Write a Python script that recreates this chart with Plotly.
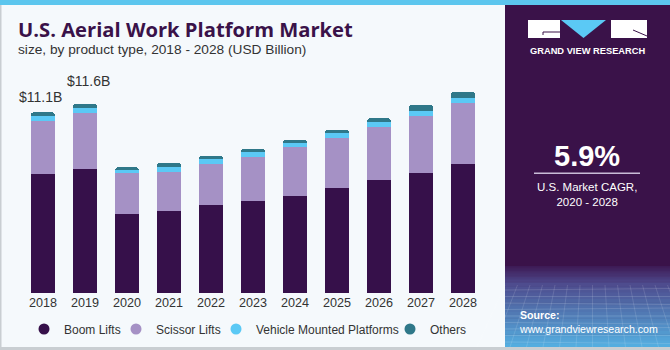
import plotly.graph_objects as go

# ---------------- data ----------------
years = ["2018", "2019", "2020", "2021", "2022", "2023", "2024", "2025", "2026", "2027", "2028"]
boom_lifts = [7.29, 7.64, 4.87, 5.06, 5.41, 5.68, 5.98, 6.47, 6.97, 7.40, 7.94]
scissor_lifts = [3.29, 3.44, 2.50, 2.40, 2.54, 2.68, 2.97, 3.05, 3.23, 3.48, 3.73]
vehicle_mounted = [0.29, 0.27, 0.20, 0.29, 0.27, 0.33, 0.29, 0.33, 0.33, 0.31, 0.33]
others = [0.23, 0.26, 0.15, 0.23, 0.20, 0.18, 0.18, 0.16, 0.20, 0.37, 0.37]
series_names = ["Boom Lifts", "Scissor Lifts", "Vehicle Mounted Platforms", "Others"]
labelled_years = ["2018", "2019"]
label_texts = ["$11.1B", "$11.6B"]
cagr_text = "5.9%"

# ---------------- style ----------------
W, H = 670, 350
L, R, T, B = 22, 484, 60, 350          # plot-area pixel box (extended to the bottom)
BASE = 293                              # pixel row of value 0
PX_PER_UNIT = 16.28
BG = "#F5F9FC"
PURPLE = "#3A1249"
colors = ["#36104A", "#A591C5", "#5BC9F5", "#2F7889"]
legend_left_px = [24, 116, 216, 390]
FONT = "Liberation Sans"


def px2x(px):
    return (px - L) / (R - L)


def py2y(py):
    return (B - py) / (B - T)


fig = go.Figure()
for name, vals, col in zip(series_names, [boom_lifts, scissor_lifts, vehicle_mounted, others], colors):
    fig.add_trace(go.Bar(x=years, y=vals, name=name, marker=dict(color=col, line=dict(width=0)),
                         showlegend=False, hoverinfo="x+y+name"))
# legend entries with round markers, one legend each so they can be spaced like the original
legend_ids = ["legend", "legend2", "legend3", "legend4"]
for name, col, lid in zip(series_names, colors, legend_ids):
    fig.add_trace(go.Scatter(x=[years[0]], y=[None], mode="markers", name=name, legend=lid,
                             marker=dict(color=col, size=11, symbol="circle")))

totals = [a + b + c + d for a, b, c, d in zip(boom_lifts, scissor_lifts, vehicle_mounted, others)]
shifts = {"2018": (-2.5, 15), "2019": (3, 23)}
annotations = []
for yr, txt in zip(labelled_years, label_texts):
    i = years.index(yr)
    xs, ys = shifts[yr]
    annotations.append(dict(x=i, y=totals[i], xref="x", yref="y", text=txt, showarrow=False,
                            xshift=xs, yshift=ys, yanchor="middle",
                            font=dict(family=FONT, size=14, color="#333333")))

# title & subtitle
annotations.append(dict(x=px2x(16), y=py2y(29), xref="paper", yref="paper", xanchor="left", yanchor="middle",
                        text="<b>U.S. Aerial Work Platform Market</b>", showarrow=False,
                        font=dict(family="Open Sans", size=20.2, color=PURPLE)))
annotations.append(dict(x=px2x(16), y=py2y(50), xref="paper", yref="paper", xanchor="left", yanchor="middle",
                        text="size, by product type, 2018 - 2028 (USD Billion)", showarrow=False,
                        font=dict(family=FONT, size=13.7, color="#333333")))
# right panel texts
annotations.append(dict(x=px2x(587), y=py2y(51), xref="paper", yref="paper", xanchor="center", yanchor="middle",
                        text="<b>GRAND VIEW RESEARCH</b>", showarrow=False,
                        font=dict(family=FONT, size=9.3, color="white")))
annotations.append(dict(x=px2x(587), y=py2y(156), xref="paper", yref="paper", xanchor="center", yanchor="middle",
                        text="<b>" + cagr_text + "</b>", showarrow=False,
                        font=dict(family=FONT, size=29, color="white")))
annotations.append(dict(x=px2x(587), y=py2y(194), xref="paper", yref="paper", xanchor="center", yanchor="middle",
                        text="U.S. Market CAGR,<br>2020 - 2028", showarrow=False,
                        font=dict(family=FONT, size=11.5, color="white")))
annotations.append(dict(x=px2x(517), y=py2y(322), xref="paper", yref="paper", xanchor="left", yanchor="middle",
                        text="<b>Source:</b><br>www.grandviewresearch.com", showarrow=False, align="left",
                        font=dict(family=FONT, size=10.6, color="white")))


def rect(x0, y0, x1, y1, color, **kw):
    return dict(type="rect", xref="paper", yref="paper", x0=px2x(x0), x1=px2x(x1),
                y0=py2y(y0), y1=py2y(y1), fillcolor=color, line=dict(width=0), **kw)


def hex2rgb(h):
    h = h.lstrip("#")
    return tuple(int(h[i:i + 2], 16) for i in (0, 2, 4))


shapes = []
# top stripe, borders
shapes.append(rect(0, 0, W, 5, "#5CC6EE"))
shapes.append(rect(0, 5, 1.5, H, "#C9CED2"))
shapes.append(rect(0, 347, W, H, "#C9CED2"))
# right panel
shapes.append(rect(505, 5, W, 347, PURPLE))
# bottom gradient of panel
c0 = hex2rgb("#3E1A55")
c1 = hex2rgb("#4E4A8C")
c2 = hex2rgb("#55B0E2")
n = 20
y_start, y_mid, y_end = 266, 283, 347
for k in range(n):
    ya = y_start + (y_mid - y_start) * k / n
    yb = y_start + (y_mid - y_start) * (k + 1) / n + 0.5
    t = (k + 0.5) / n
    col = tuple(int(c0[j] + (c1[j] - c0[j]) * t) for j in range(3))
    shapes.append(rect(505, ya, W, yb, "rgb(%d,%d,%d)" % col))
for k in range(n):
    ya = y_mid + (y_end - y_mid) * k / n
    yb = y_mid + (y_end - y_mid) * (k + 1) / n + 0.5
    t = (k + 0.5) / n
    col = tuple(int(c1[j] + (c2[j] - c1[j]) * t) for j in range(3))
    shapes.append(rect(505, ya, W, min(yb, 347), "rgb(%d,%d,%d)" % col))
# faint grid texture in the gradient
for k in range(9):
    yy = 290 + k * 6.5
    shapes.append(dict(type="line", xref="paper", yref="paper", x0=px2x(505), x1=px2x(W),
                       y0=py2y(yy), y1=py2y(yy + 1.5 * (k % 3 - 1)),
                       line=dict(color="rgba(255,255,255,0.18)", width=0.8)))
for k in range(14):
    xx = 505 + k * 12.5
    shapes.append(dict(type="line", xref="paper", yref="paper", x0=px2x(xx), x1=px2x(xx + (k - 7) * 4),
                       y0=py2y(285), y1=py2y(347),
                       line=dict(color="rgba(255,255,255,0.16)", width=0.8)))
# logo
shapes.append(rect(528, 20, 560, 38, "white"))
shapes.append(rect(611, 20, 647, 38, "white"))
shapes.append(dict(type="path", xref="paper", yref="paper",
                   path="M %f,%f L %f,%f L %f,%f Z" % (px2x(561), py2y(20), px2x(606), py2y(20), px2x(583.5), py2y(38)),
                   fillcolor="#5BC9F5", line=dict(width=0)))
shapes.append(dict(type="line", xref="paper", yref="paper", x0=px2x(543), x1=px2x(560), y0=py2y(32), y1=py2y(32),
                   line=dict(color=PURPLE, width=1)))
shapes.append(dict(type="line", xref="paper", yref="paper", x0=px2x(543), x1=px2x(543), y0=py2y(32), y1=py2y(35),
                   line=dict(color=PURPLE, width=1)))
shapes.append(dict(type="line", xref="paper", yref="paper", x0=px2x(633), x1=px2x(647), y0=py2y(30), y1=py2y(36),
                   line=dict(color=PURPLE, width=1)))
# CAGR divider
shapes.append(dict(type="line", xref="paper", yref="paper", x0=px2x(534), x1=px2x(640), y0=py2y(173.3), y1=py2y(173.3),
                   line=dict(color="#C9BCD8", width=1.5)))

y_min = -(B - BASE) / PX_PER_UNIT
y_max = (BASE - T) / PX_PER_UNIT

legend_common = dict(orientation="h", xanchor="left", yanchor="middle", y=py2y(329),
                     font=dict(family=FONT, size=12, color="#333333"), bgcolor="rgba(0,0,0,0)",
                     itemwidth=30, tracegroupgap=0)
legend_layout = {}
for lid, lx in zip(legend_ids, legend_left_px):
    legend_layout[lid] = dict(x=px2x(lx), **legend_common)

fig.update_layout(
    width=W, height=H,
    margin=dict(l=L, r=W - R, t=T, b=H - B, pad=0),
    paper_bgcolor=BG, plot_bgcolor="rgba(0,0,0,0)",
    barmode="stack", bargap=0.43, barcornerradius=3,
    font=dict(family=FONT, color="#333333"),
    xaxis=dict(type="category", categoryorder="array", categoryarray=years, range=[-0.5, len(years) - 0.5],
               anchor="free", position=py2y(BASE),
               showgrid=False, zeroline=False, showline=False, ticks="",
               tickfont=dict(family=FONT, size=12.6, color="#333333"), fixedrange=True),
    yaxis=dict(range=[y_min, y_max], visible=False, fixedrange=True),
    showlegend=True,
    annotations=annotations,
    shapes=shapes,
    **legend_layout,
)

fig.write_html("out.html")
